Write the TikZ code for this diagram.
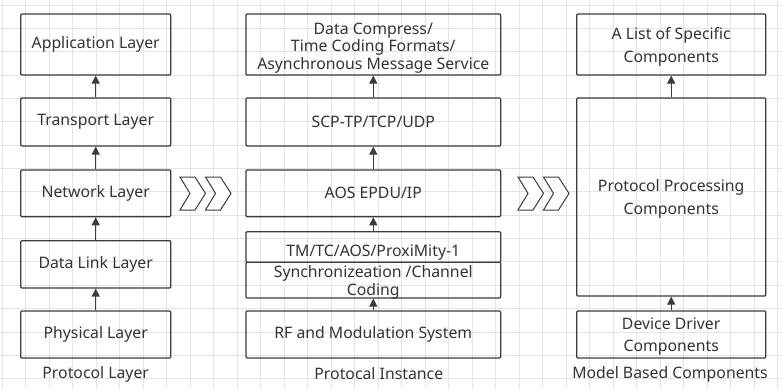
\documentclass[tikz,border=0pt]{standalone}
\usepackage{fontspec}
\setmainfont{Noto Sans}
\usetikzlibrary{arrows.meta}
\definecolor{gridc}{HTML}{E4E4E4}
\definecolor{linec}{HTML}{3C3C3C}
\definecolor{txtc}{HTML}{333333}
\begin{document}
\begin{tikzpicture}[x=1pt,y=-1pt,
  box/.style={draw=linec,line width=1.2pt,rounded corners=1pt,inner sep=0pt,align=center,text=txtc,font=\fontsize{15.8}{17.8}\selectfont},
  up/.style={draw=linec,line width=1.2pt,-{Triangle[length=8pt,width=8pt]}},
  lab/.style={text=txtc,inner sep=0pt,align=center,font=\fontsize{15.8}{17.8}\selectfont},
  chev/.style={draw=linec,line width=1pt,line join=miter,fill=white}]
\fill[white] (0,0) rectangle (782,389);
\useasboundingbox (0,0) rectangle (782,389);
% grid
\foreach \k in {0,...,33}{\draw[gridc,line width=0.8pt] ({2.3+23.5*\k},0) -- ({2.3+23.5*\k},389);}
\foreach \k in {0,...,16}{\draw[gridc,line width=0.8pt] (0,{5+23.35*\k}) -- (782,{5+23.35*\k});}
% left column
\node[box,minimum width=150pt,minimum height=61pt] (app) at (95.7,44.5) {Application Layer};
\node[box,minimum width=150pt,minimum height=48pt] (trans) at (95.7,122) {Transport Layer};
\node[box,minimum width=150pt,minimum height=46.7pt] (net) at (95.7,193.3) {Network Layer};
\node[box,minimum width=150pt,minimum height=47.3pt] (dl) at (95.7,264.3) {Data Link Layer};
\node[box,minimum width=150pt,minimum height=47pt] (phy) at (95.7,334.5) {Physical Layer};
\node[lab] (l1) at (95.7,374) {Protocol Layer};
% middle column
\node[box,minimum width=254.7pt,minimum height=61pt] (dc) at (373.3,44.5) {};
\node[lab] (dct) at (373.3,48) {Data Compress/\\Time Coding Formats/\\Asynchronous Message Service};
\node[box,minimum width=254.7pt,minimum height=48pt] (scp) at (373.3,122) {SCP-TP/TCP/UDP};
\node[box,minimum width=254.7pt,minimum height=46.7pt] (aos) at (373.3,193.3) {AOS EPDU/IP};
\node[box,minimum width=254.7pt,minimum height=30.6pt] (tm) at (373.3,247) {};
\node[lab] (tmt) at (373.3,253) {TM/TC/AOS/ProxiMity-1};
\node[box,minimum width=254.7pt,minimum height=35.7pt] (sync) at (373.3,280.2) {};
\node[lab] (synct) at (373.3,282) {Synchronizeation /Channel\\Coding};
\node[box,minimum width=254.7pt,minimum height=47pt] (rf) at (373.3,334.5) {RF and Modulation System};
\node[lab] (l2) at (378.8,374) {Protocal Instance};
% right column
\node[box,minimum width=189pt,minimum height=61pt] (list) at (671.2,44.5) {};
\node[lab] (listt) at (671.2,46.5) {A List of Specific\\[5pt]Components};
\node[box,minimum width=189pt,minimum height=198pt] (ppc) at (671.2,197) {};
\node[lab] (ppct) at (671.2,199) {Protocol Processing\\[5.5pt]Components};
\node[box,minimum width=189pt,minimum height=47pt] (dev) at (671.2,334.5) {};
\node[lab] (devt) at (671.2,336.5) {Device Driver\\[5pt]Components};
\node[lab] (l3) at (670,374) {Model Based Components};
% arrows
\draw[up] (trans.north) -- (app.south);
\draw[up] (net.north) -- (trans.south);
\draw[up] (dl.north) -- (net.south);
\draw[up] (phy.north) -- (dl.south);
\draw[up] (scp.north) -- (dc.south);
\draw[up] (aos.north) -- (scp.south);
\draw[up] (tm.north) -- (aos.south);
\draw[up] (rf.north) -- (sync.south);
\draw[up] (ppc.north) -- (list.south);
\draw[up] (dev.north) -- (ppc.south);
% chevrons
\foreach \x in {180,205.5,518,543.5}{
  \draw[chev] (\x,177) -- ({\x+15},177) -- ({\x+25.5},193.4) -- ({\x+15},210) -- (\x,210) -- ({\x+10},193.4) -- cycle;
}
\end{tikzpicture}
\end{document}
